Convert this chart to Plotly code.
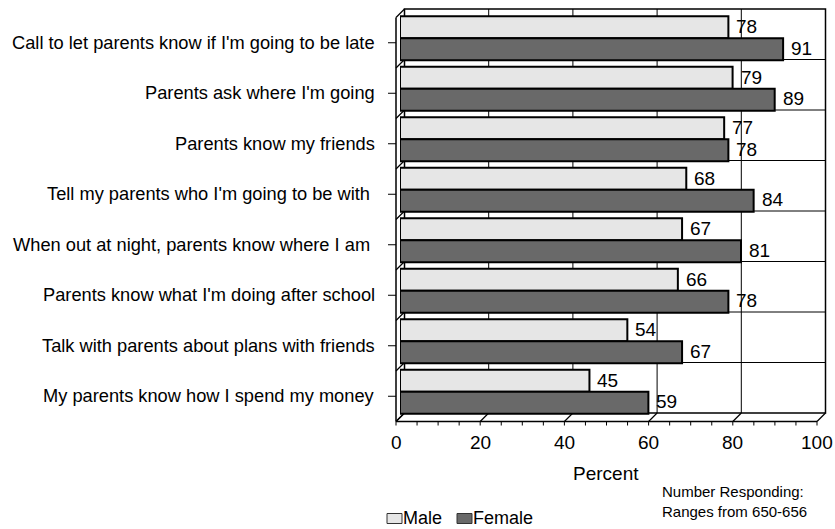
import plotly.graph_objects as go

# Survey items, top to bottom
categories = [
    "Call to let parents know if I'm going to be late",
    "Parents ask where I'm going",
    "Parents know my friends",
    "Tell my parents who I'm going to be with\u00a0",
    "When out at night, parents know where I am\u00a0",
    "Parents know what I'm doing after school",
    "Talk with parents about plans with friends",
    "My parents know how I spend my money",
]
male = [78, 79, 77, 68, 67, 66, 54, 45]
female = [91, 89, 78, 84, 81, 78, 67, 59]
x_ticks = [0, 20, 40, 60, 80, 100]

MALE_COLOR = "#e6e6e6"
FEMALE_COLOR = "#696969"
FONT = "Liberation Sans, Arial, sans-serif"

# Figure and plot-area geometry (pixels)
FIG_W, FIG_H = 835, 529
L, T, PW, PH = 400, 13, 421, 404
XMAX = 100
N = len(categories)
BAND = PH / N

# depth offsets of the back wall and the front frame relative to the bar plane
BACK_DX, BACK_DY = 4.5, -4
FRONT_DX, FRONT_DY = -4, 4.5


def fx(px):
    return (px - L) / PW


def fy(py):
    return (T + PH - py) / PH


def vx(v):
    return L + v * PW / XMAX


def seg(x0, y0, x1, y1, width=1.0, color="black", layer="above"):
    return dict(type="line", xref="paper", yref="paper",
                x0=fx(x0), y0=fy(y0), x1=fx(x1), y1=fy(y1),
                line=dict(color=color, width=width), layer=layer)


fig = go.Figure()
fig.add_trace(go.Bar(
    y=categories, x=male, orientation="h", name="Male",
    marker=dict(color=MALE_COLOR, line=dict(color="black", width=2)),
))
fig.add_trace(go.Bar(
    y=categories, x=female, orientation="h", name="Female",
    marker=dict(color=FEMALE_COLOR, line=dict(color="black", width=2)),
))

shapes = []
# back wall
bx0, bx1 = L + BACK_DX, vx(XMAX) + BACK_DX
by0, by1 = T + BACK_DY, T + PH + BACK_DY
shapes.append(dict(type="rect", xref="paper", yref="paper",
                   x0=fx(bx0), x1=fx(bx1), y0=fy(by1), y1=fy(by0),
                   fillcolor="white", line=dict(color="black", width=1.5),
                   layer="below"))
# category gridlines on the back wall and their run across the side wall
for k in range(N + 1):
    yb = T + k * BAND + BACK_DY
    if 0 < k < N:
        shapes.append(seg(bx0, yb, bx1, yb, 1, layer="below"))
    shapes.append(seg(bx0, yb, L + FRONT_DX, T + k * BAND + FRONT_DY, 1.2,
                      layer="below"))
# value gridlines on the back wall and across the floor
for v in x_ticks:
    xb = vx(v) + BACK_DX
    if 0 < v < XMAX:
        shapes.append(seg(xb, by0, xb, by1, 1, layer="below"))
    shapes.append(seg(vx(v) + FRONT_DX, T + PH + FRONT_DY, xb, by1, 1.2,
                      layer="below"))
# front frame
fy_bottom = T + PH + FRONT_DY
shapes.append(seg(L + FRONT_DX, T + FRONT_DY, L + FRONT_DX, fy_bottom, 1.5))
shapes.append(seg(L + FRONT_DX, fy_bottom, vx(XMAX) + FRONT_DX, fy_bottom, 1.5))
# minor ticks along the value axis
for v in range(0, XMAX + 1, 5):
    xt = vx(v) + FRONT_DX
    shapes.append(seg(xt, fy_bottom, xt, fy_bottom + 4, 1))
# category ticks
for i in range(N):
    yt = T + (i + 0.5) * BAND + FRONT_DY
    shapes.append(seg(L + FRONT_DX - 8, yt, L + FRONT_DX, yt, 1))

annotations = []
# category labels
for c in categories:
    annotations.append(dict(
        text=c, xref="paper", yref="y", x=fx(377), y=c,
        xanchor="right", yanchor="middle", yshift=-FRONT_DY + 0.5,
        showarrow=False, font=dict(size=18.25, family=FONT, color="black")))
# value labels
for series, shift in ((male, 11.5), (female, -10)):
    for c, v in zip(categories, series):
        annotations.append(dict(
            text=str(v), xref="x", yref="y", x=v, y=c,
            xanchor="left", yanchor="middle", xshift=6, yshift=shift,
            showarrow=False, font=dict(size=19, family=FONT, color="black")))
# value axis tick labels
for v in x_ticks:
    annotations.append(dict(
        text=str(v), xref="x", yref="paper", x=v, y=0,
        xanchor="center", yanchor="middle", xshift=FRONT_DX, yshift=-(442 - (T + PH)),
        showarrow=False, font=dict(size=19, family=FONT, color="black")))
# axis title
annotations.append(dict(
    text="Percent", xref="paper", yref="paper", x=fx(606), y=fy(473),
    xanchor="center", yanchor="middle", showarrow=False,
    font=dict(size=19, family=FONT, color="black")))
# note
annotations.append(dict(
    text="Number Responding:<br>Ranges from 650-656", xref="paper", yref="paper",
    x=fx(660), y=fy(501), xanchor="left", yanchor="middle", align="left",
    showarrow=False, font=dict(size=15, family=FONT, color="black")))

# legend
legend_items = [("Male", MALE_COLOR, 387), ("Female", FEMALE_COLOR, 457)]
for name, color, x0 in legend_items:
    shapes.append(dict(type="rect", xref="paper", yref="paper",
                       x0=fx(x0), x1=fx(x0 + 15), y0=fy(523.5), y1=fy(513.5),
                       fillcolor=color, line=dict(color="#333333", width=1)))
    annotations.append(dict(
        text=name, xref="paper", yref="paper", x=fx(x0 + 15), y=fy(517.5),
        xanchor="left", yanchor="middle", showarrow=False, borderpad=0,
        font=dict(size=18, family=FONT, color="black")))

fig.update_layout(
    width=FIG_W, height=FIG_H,
    margin=dict(l=L, r=FIG_W - L - PW, t=T, b=FIG_H - T - PH, pad=0),
    paper_bgcolor="white", plot_bgcolor="rgba(0,0,0,0)",
    barmode="group", bargap=0.129, bargroupgap=0,
    showlegend=False,
    xaxis=dict(range=[0, XMAX], visible=False, fixedrange=True),
    yaxis=dict(autorange="reversed", visible=False, fixedrange=True),
    shapes=shapes, annotations=annotations,
    font=dict(family=FONT, color="black"),
)

fig.write_html("out.html")
